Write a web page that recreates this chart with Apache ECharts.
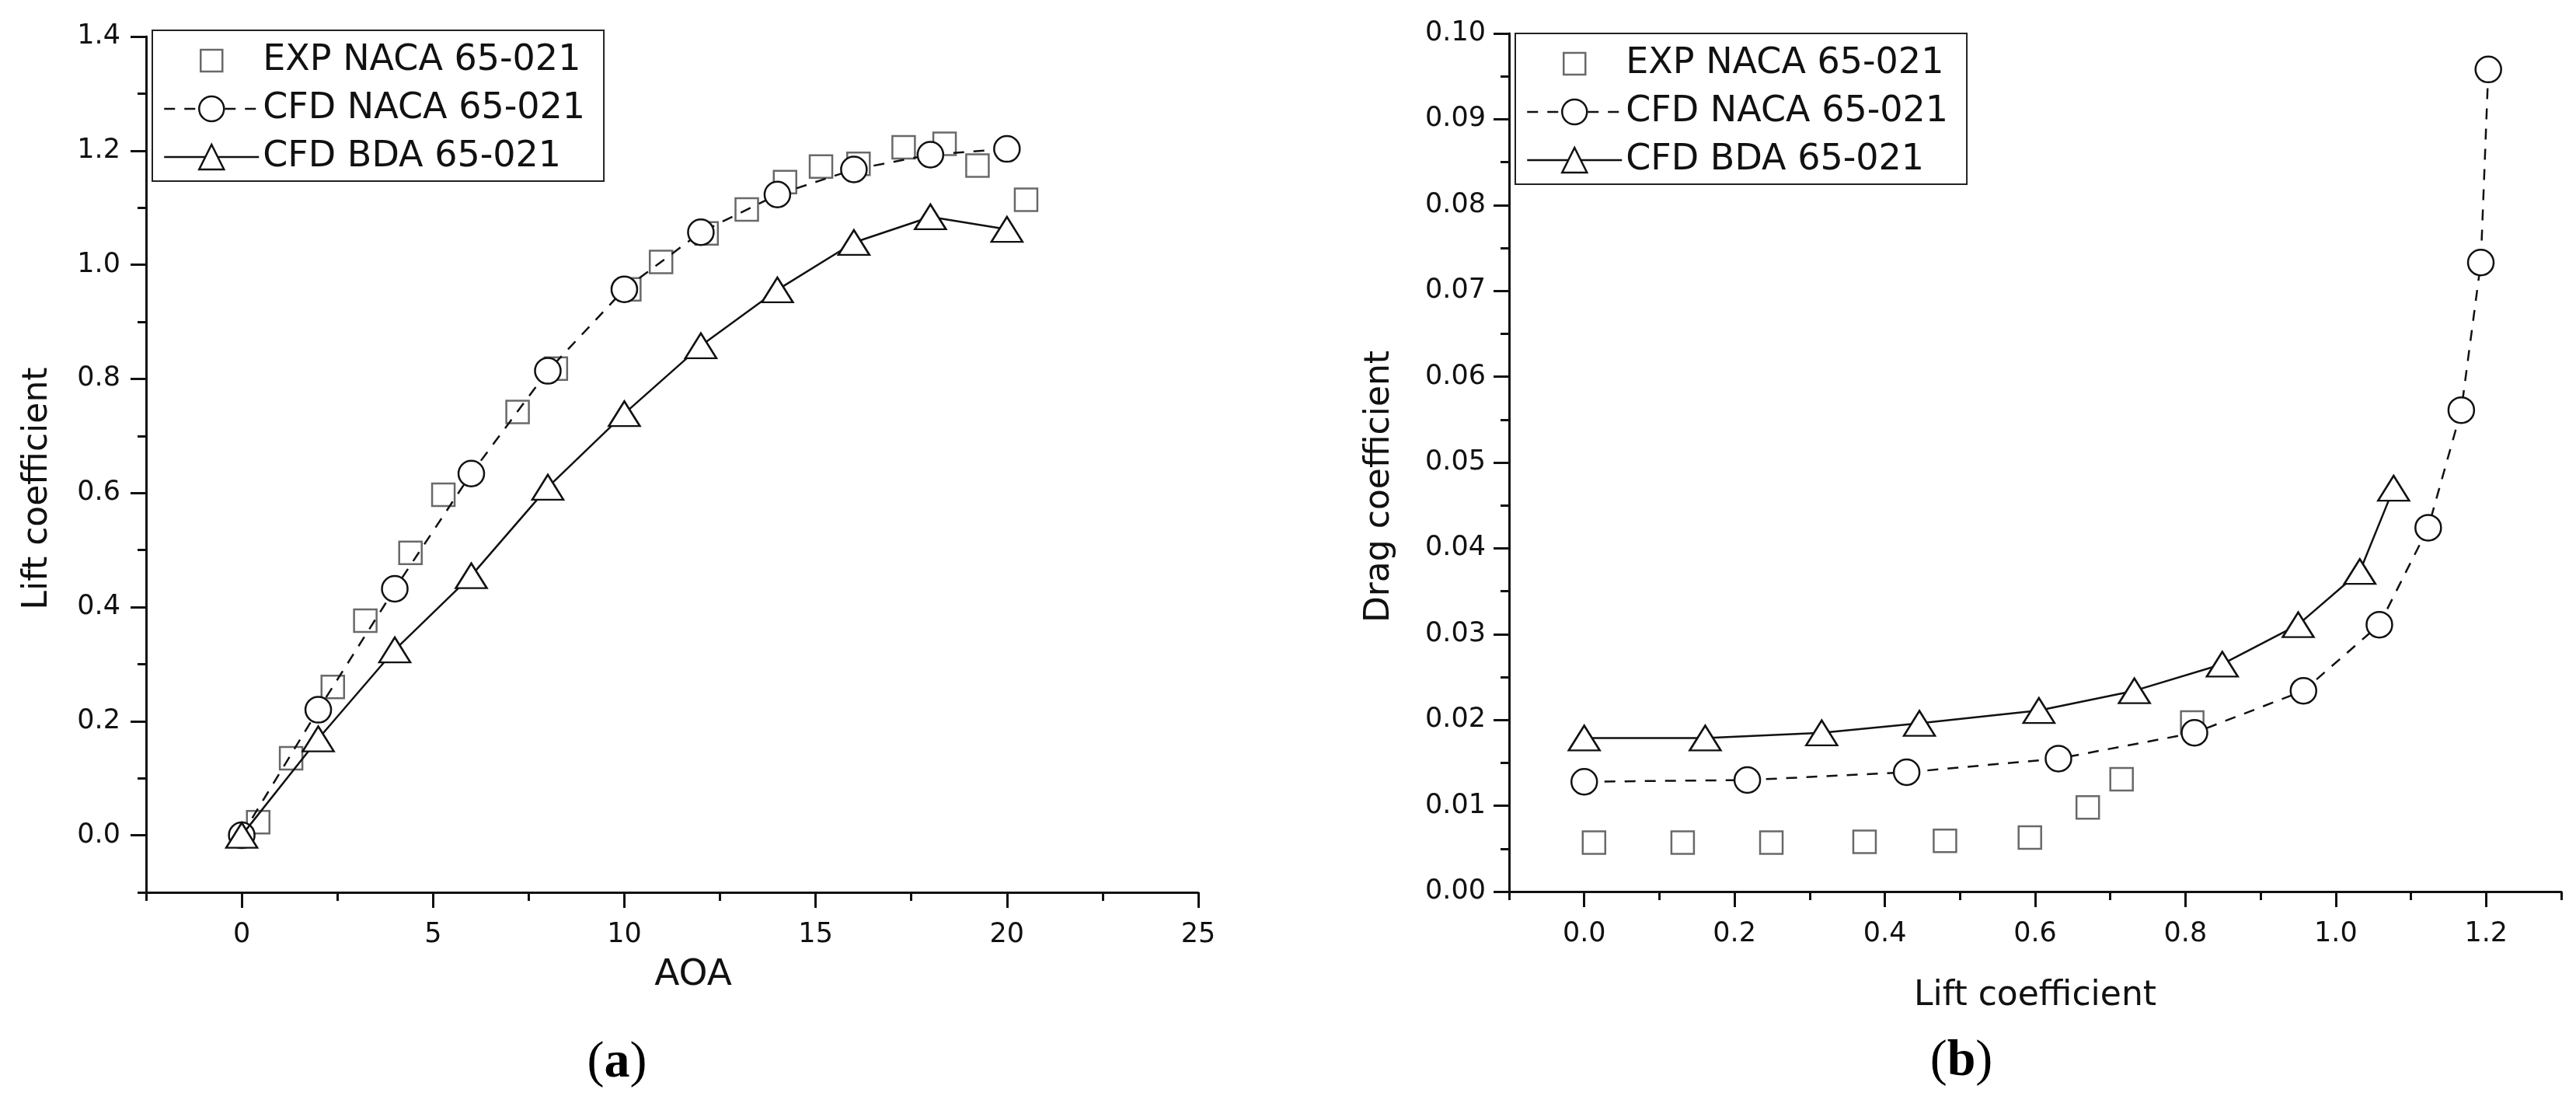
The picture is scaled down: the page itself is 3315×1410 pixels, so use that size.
<!DOCTYPE html>
<html>
<head>
<meta charset="utf-8">
<title>NACA 65-021 lift and drag</title>
<script src="https://cdn.jsdelivr.net/npm/echarts@6/dist/echarts.min.js"></script>
<style>
  html, body { margin: 0; padding: 0; background: #fff; }
  #chart { width: 3315px; height: 1410px; }
</style>
</head>
<body>
<div id="chart"></div>
<script>
// (a) lift coefficient vs angle of attack
const expAoa = [0.43, 1.29, 2.38, 3.23, 4.41, 5.27, 7.21, 8.21, 10.13, 10.96, 12.15, 13.2, 14.2, 15.14, 16.12, 17.3, 18.37, 19.23, 20.5];
const expCl = [0.023, 0.135, 0.26, 0.376, 0.495, 0.597, 0.742, 0.818, 0.957, 1.005, 1.055, 1.097, 1.145, 1.172, 1.177, 1.206, 1.212, 1.174, 1.114];
const cfdAoa = [0, 2, 4, 6, 8, 10, 12, 14, 16, 18, 20];
const cfdNacaCl = [0, 0.22, 0.432, 0.634, 0.814, 0.957, 1.057, 1.123, 1.167, 1.193, 1.203];
const cfdBdaCl = [0, 0.169, 0.325, 0.455, 0.61, 0.739, 0.858, 0.956, 1.039, 1.084, 1.062];

// (b) drag coefficient vs lift coefficient
const expPolarCl = [0.013, 0.131, 0.249, 0.373, 0.48, 0.593, 0.67, 0.715, 0.809];
const expPolarCd = [0.0057, 0.0057, 0.0057, 0.0058, 0.0059, 0.0063, 0.0098, 0.0131, 0.0197];
const nacaPolarCl = [0, 0.217, 0.429, 0.631, 0.812, 0.957, 1.058, 1.123, 1.167, 1.193, 1.203];
const nacaPolarCd = [0.0128, 0.013, 0.0139, 0.0155, 0.0185, 0.0234, 0.0311, 0.0424, 0.0561, 0.0733, 0.0958];
const bdaPolarCl = [0, 0.161, 0.316, 0.446, 0.605, 0.732, 0.849, 0.95, 1.032, 1.077];
const bdaPolarCd = [0.0179, 0.0179, 0.0185, 0.0196, 0.0211, 0.0234, 0.0265, 0.0311, 0.0373, 0.047];

// tick positions (major ones get labels)
const aoaMajor = [0, 5, 10, 15, 20, 25];
const aoaMinor = [-2.5, 2.5, 7.5, 12.5, 17.5, 22.5];
const clMajor = [0, 0.2, 0.4, 0.6, 0.8, 1.0, 1.2, 1.4];
const clMinor = [-0.1, 0.1, 0.3, 0.5, 0.7, 0.9, 1.1, 1.3];
const polarClMajor = [0, 0.2, 0.4, 0.6, 0.8, 1.0, 1.2];
const polarClMinor = [-0.1, 0.1, 0.3, 0.5, 0.7, 0.9, 1.1, 1.3];
const cdMajor = [0, 0.01, 0.02, 0.03, 0.04, 0.05, 0.06, 0.07, 0.08, 0.09, 0.1];
const cdMinor = [0.005, 0.015, 0.025, 0.035, 0.045, 0.055, 0.065, 0.075, 0.085, 0.095];

const seriesNames = ['EXP NACA 65-021', 'CFD NACA 65-021', 'CFD BDA 65-021'];

const FONT = 'DejaVu Sans';
const INK = '#111';

const pairs = (xs, ys) => xs.map((x, i) => [x, ys[i]]);

// main axis: line, long ticks, labels, name
function mainAxis(gridIndex, min, max, ticks, fmt, labelMargin, name, nameGap, nameSize, namePad) {
  return {
    type: 'value',
    gridIndex,
    min,
    max,
    axisLine: { show: true, onZero: false, lineStyle: { color: INK, width: 3 } },
    axisTick: { show: true, length: 20, customValues: ticks, lineStyle: { color: INK, width: 3 } },
    axisLabel: {
      customValues: ticks,
      formatter: fmt,
      margin: labelMargin,
      fontSize: 35,
      fontFamily: FONT,
      color: INK
    },
    splitLine: { show: false },
    name,
    nameLocation: 'middle',
    nameGap,
    nameTextStyle: { fontSize: nameSize, fontFamily: FONT, color: INK, padding: namePad }
  };
}

// overlay axis that only draws the short minor ticks
function minorAxis(gridIndex, min, max, ticks) {
  return {
    type: 'value',
    gridIndex,
    min,
    max,
    axisLine: { show: false, onZero: false },
    axisTick: { show: true, length: 11, customValues: ticks, lineStyle: { color: INK, width: 3 } },
    axisLabel: { show: false },
    splitLine: { show: false }
  };
}

const hollow = { color: '#fff', borderColor: INK, borderWidth: 2.5 };
const hollowSquare = { color: '#fff', borderColor: '#444', borderWidth: 2.5 };

function expSeries(xi, data) {
  return {
    name: seriesNames[0],
    type: 'scatter',
    xAxisIndex: xi,
    yAxisIndex: xi,
    data,
    symbol: 'rect',
    symbolSize: 29,
    itemStyle: hollowSquare,
    z: 2
  };
}
function nacaSeries(xi, data) {
  return {
    name: seriesNames[1],
    type: 'line',
    xAxisIndex: xi,
    yAxisIndex: xi,
    data,
    symbol: 'circle',
    symbolSize: 33,
    showAllSymbol: true,
    lineStyle: { color: INK, width: 2.5, type: [14, 12] },
    itemStyle: hollow,
    z: 3
  };
}
function bdaSeries(xi, data) {
  return {
    name: seriesNames[2],
    type: 'line',
    xAxisIndex: xi,
    yAxisIndex: xi,
    data,
    symbol: 'triangle',
    symbolSize: [40, 32],
    showAllSymbol: true,
    lineStyle: { color: INK, width: 2.5 },
    itemStyle: hollow,
    z: 4
  };
}

function legendBox(left, top) {
  return {
    left,
    top,
    orient: 'vertical',
    align: 'left',
    itemWidth: 122,
    itemHeight: 40,
    itemGap: 16,
    padding: [16, 24, 8, 14],
    borderColor: '#222',
    borderWidth: 2,
    backgroundColor: '#fff',
    selectedMode: false,
    textStyle: { fontSize: 46, fontFamily: FONT, color: INK },
    lineStyle: { width: 2.5 },
    itemStyle: { borderWidth: 2.5 },
    data: [
      // smaller hollow square inside a padded box
      { name: seriesNames[0], icon: 'path://M0,0M20,20M3,3H17V17H3Z' },
      seriesNames[1],
      seriesNames[2]
    ]
  };
}

const panelRich = {
  p: { fontFamily: 'Liberation Serif', fontSize: 66, fill: '#000' },
  b: { fontFamily: 'Liberation Serif', fontSize: 66, fontWeight: 'bold', fill: '#000' }
};

const chart = echarts.init(document.getElementById('chart'));

const leftGrid = { left: 188, top: 47, width: 1354, height: 1101 };
const rightGrid = { left: 1942, top: 43, width: 1354, height: 1104 };

chart.setOption({
  animation: false,
  backgroundColor: '#fff',
  grid: [
    Object.assign({}, leftGrid),
    Object.assign({}, leftGrid),
    Object.assign({}, rightGrid),
    Object.assign({}, rightGrid)
  ],
  xAxis: [
    mainAxis(0, -2.5, 25, aoaMajor, v => String(v), 37, 'AOA', 83, 47, [0, 0, 0, 54]),
    minorAxis(1, -2.5, 25, aoaMinor),
    mainAxis(2, -0.1, 1.3, polarClMajor, v => v.toFixed(1), 37, 'Lift coefficient', 113, 44, 0),
    minorAxis(3, -0.1, 1.3, polarClMinor)
  ],
  yAxis: [
    mainAxis(0, -0.1, 1.4, clMajor, v => v.toFixed(1), 33, 'Lift coefficient', 117, 44, [0, 62, 0, 0]),
    minorAxis(1, -0.1, 1.4, clMinor),
    mainAxis(2, 0, 0.1, cdMajor, v => v.toFixed(2), 30, 'Drag coefficient', 144, 44, [0, 62, 0, 0]),
    minorAxis(3, 0, 0.1, cdMinor)
  ],
  legend: [legendBox(196, 39), legendBox(1950, 43)],
  series: [
    expSeries(0, pairs(expAoa, expCl)),
    nacaSeries(0, pairs(cfdAoa, cfdNacaCl)),
    bdaSeries(0, pairs(cfdAoa, cfdBdaCl)),
    expSeries(2, pairs(expPolarCl, expPolarCd)),
    nacaSeries(2, pairs(nacaPolarCl, nacaPolarCd)),
    bdaSeries(2, pairs(bdaPolarCl, bdaPolarCd))
  ],
  graphic: [
    {
      type: 'text', x: 794, y: 1368,
      style: { text: '{p|(}{b|a}{p|)}', rich: panelRich, align: 'center', verticalAlign: 'middle' }
    },
    {
      type: 'text', x: 2524, y: 1366,
      style: { text: '{p|(}{b|b}{p|)}', rich: panelRich, align: 'center', verticalAlign: 'middle' }
    }
  ]
});
</script>
</body>
</html>
